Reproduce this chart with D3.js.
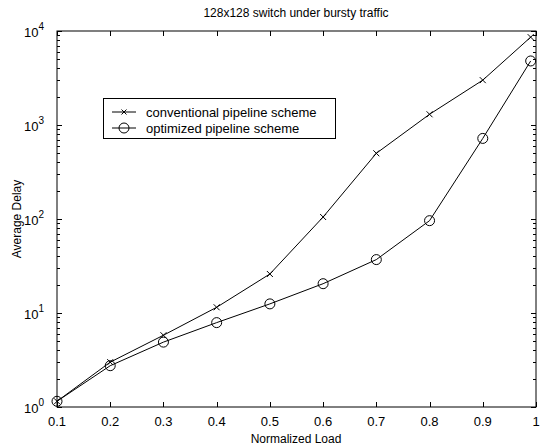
<!DOCTYPE html>
<html>
<head>
<meta charset="utf-8">
<script src="https://cdn.jsdelivr.net/npm/d3@7"></script>
<style>
  html, body { margin: 0; padding: 0; background: #fff; }
  svg { display: block; font-family: "Liberation Sans", Arial, sans-serif; }
</style>
</head>
<body>
<svg id="chart" width="545" height="448"></svg>
<script>
// Average delay vs. normalized load, 128x128 switch, bursty traffic
const loads = [0.1, 0.2, 0.3, 0.4, 0.5, 0.6, 0.7, 0.8, 0.9, 0.99];
const conventionalDelay = [1.15, 3.0, 5.8, 11.5, 26, 105, 500, 1300, 3000, 8600];
const optimizedDelay    = [1.15, 2.75, 4.9, 7.9, 12.5, 20.5, 37, 96, 720, 4800];
const xTicks = [0.1, 0.2, 0.3, 0.4, 0.5, 0.6, 0.7, 0.8, 0.9, 1];
const yExponents = [0, 1, 2, 3, 4];
const seriesNames = ["conventional pipeline scheme", "optimized pipeline scheme"];

const svg = d3.select("#chart");
const L = 57, R = 536, T = 31, B = 407;

const x = d3.scaleLinear().domain([0.1, 1]).range([L, R]);
const y = d3.scaleLog().domain([1, 10000]).range([B, T]);

// axis frame
svg.append("rect")
  .attr("x", L).attr("y", T).attr("width", R - L).attr("height", B - T)
  .attr("fill", "none").attr("stroke", "#000").attr("stroke-width", 1);

const tickG = svg.append("g").attr("stroke", "#000").attr("stroke-width", 1);

// x ticks, inward on bottom and top
xTicks.forEach(v => {
  const px = Math.round(x(v)) + 0.5;
  tickG.append("line").attr("x1", px).attr("x2", px).attr("y1", B).attr("y2", B - 5);
  tickG.append("line").attr("x1", px).attr("x2", px).attr("y1", T).attr("y2", T + 5);
});

// y ticks: major at decades, minor 2..9
const minor = [];
for (let e = 0; e < 4; e++) for (let m = 2; m <= 9; m++) minor.push(m * Math.pow(10, e));
yExponents.forEach(e => {
  const py = Math.round(y(Math.pow(10, e))) + 0.5;
  tickG.append("line").attr("x1", L).attr("x2", L + 5).attr("y1", py).attr("y2", py);
  tickG.append("line").attr("x1", R).attr("x2", R - 5).attr("y1", py).attr("y2", py);
});
minor.forEach(v => {
  const py = Math.round(y(v)) + 0.5;
  tickG.append("line").attr("x1", L).attr("x2", L + 3).attr("y1", py).attr("y2", py);
  tickG.append("line").attr("x1", R).attr("x2", R - 3).attr("y1", py).attr("y2", py);
});

// x tick labels
svg.append("g").selectAll("text").data(xTicks).join("text")
  .attr("x", d => x(d)).attr("y", 426)
  .attr("text-anchor", "middle").attr("font-size", 13).attr("fill", "#000")
  .text(d => d === 1 ? "1" : d3.format(".1f")(d));

// y tick labels 10^n
const yl = svg.append("g").selectAll("text").data(yExponents).join("text")
  .attr("x", 44).attr("y", d => y(Math.pow(10, d)) + 6)
  .attr("text-anchor", "end").attr("font-size", 13).attr("fill", "#000");
yl.append("tspan").text("10");
yl.append("tspan").attr("dy", -7).attr("font-size", 10).text(d => d);

// title and axis labels
svg.append("text").attr("x", 296).attr("y", 17).attr("text-anchor", "middle")
  .attr("font-size", 12).text("128x128 switch under bursty traffic");
svg.append("text").attr("x", 296).attr("y", 443).attr("text-anchor", "middle")
  .attr("font-size", 12).text("Normalized Load");
svg.append("text").attr("transform", "translate(21,219) rotate(-90)")
  .attr("text-anchor", "middle").attr("font-size", 12).text("Average Delay");

const line = d3.line().x((d, i) => x(loads[i])).y(d => y(d));

function drawX(g, cx, cy, s) {
  g.append("path")
    .attr("d", `M${cx - s},${cy - s}L${cx + s},${cy + s}M${cx - s},${cy + s}L${cx + s},${cy - s}`)
    .attr("stroke", "#000").attr("stroke-width", 1).attr("fill", "none");
}

// conventional series
const g1 = svg.append("g");
g1.append("path").datum(conventionalDelay).attr("d", line)
  .attr("fill", "none").attr("stroke", "#000").attr("stroke-width", 1);
conventionalDelay.forEach((d, i) => drawX(g1, x(loads[i]), y(d), 3));

// optimized series
const g2 = svg.append("g");
g2.append("path").datum(optimizedDelay).attr("d", line)
  .attr("fill", "none").attr("stroke", "#000").attr("stroke-width", 1);
g2.selectAll("circle").data(optimizedDelay).join("circle")
  .attr("cx", (d, i) => x(loads[i])).attr("cy", d => y(d)).attr("r", 5)
  .attr("fill", "none").attr("stroke", "#000").attr("stroke-width", 1);

// legend
const lg = svg.append("g");
lg.append("rect").attr("x", 103.5).attr("y", 98.5).attr("width", 232).attr("height", 40)
  .attr("fill", "#fff").attr("stroke", "#000").attr("stroke-width", 1);
[0, 1].forEach(i => {
  const ly = 112 + i * 16;
  lg.append("line").attr("x1", 112).attr("x2", 136).attr("y1", ly).attr("y2", ly)
    .attr("stroke", "#000").attr("stroke-width", 1);
  if (i === 0) drawX(lg, 124, ly, 2.5);
  else lg.append("circle").attr("cx", 124).attr("cy", ly).attr("r", 5)
    .attr("fill", "none").attr("stroke", "#000");
  lg.append("text").attr("x", 146).attr("y", ly + 5).attr("font-size", 13).text(seriesNames[i]);
});
</script>
</body>
</html>
